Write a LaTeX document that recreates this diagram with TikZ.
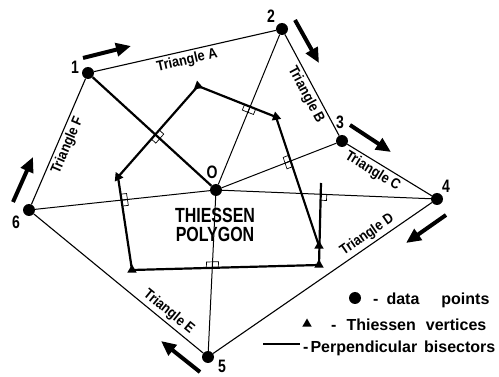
\documentclass[tikz,border=0pt]{standalone}
\usepackage{fontspec}
\setmainfont{Liberation Sans}
\newfontfamily\cond[FakeStretch=0.78]{Liberation Sans Bold}
\newfontfamily\trif[FakeStretch=0.88]{Liberation Sans Bold}
\usetikzlibrary{arrows.meta,calc,shapes.geometric}
\newcommand{\rasq}[3]{%
  \coordinate (qa) at ($(#1)!6pt!(#2)$);
  \coordinate (qb) at ($(#1)!6pt!(#3)$);
  \draw[rsq] (#1) -- (qa) -- ($(qa)+(qb)-(#1)$) -- (qb) -- cycle;
}
\begin{document}
\begin{tikzpicture}[x=1pt,y=-1pt,
  dpt/.style={circle,fill=black,inner sep=0pt,minimum size=12pt},
  vtx/.style={regular polygon,regular polygon sides=3,fill=black,inner sep=0pt,minimum size=11pt},
  hull/.style={line width=1.1pt},
  radial/.style={line width=1pt},
  bis/.style={line width=2.2pt},
  trilab/.style={font=\trif\fontsize{14.5}{14.5}\selectfont,sloped,inner sep=2.5pt},
  num/.style={font=\cond\fontsize{18}{18}\selectfont,inner sep=0pt},
  mvarrow/.style={line width=4pt,-{Triangle[length=15pt,width=13pt]}},
  rsq/.style={draw,fill=white,line width=0.7pt},
  legtxt/.style={font=\bfseries\fontsize{16}{16}\selectfont,anchor=base west,inner sep=0pt}
]
\useasboundingbox (0,0) rectangle (499,377);
% Thiessen vertices (coordinates)
\coordinate (v1) at (198,86);
\coordinate (v2) at (276,117);
\coordinate (v3) at (319,246);
\coordinate (v4) at (319,265);
\coordinate (v5) at (132,270);
\coordinate (v6) at (118,177);
\coordinate (t4) at (321,183);
% data points
\node[dpt] (p1) at (88,73) {};
\node[dpt] (p2) at (282,29) {};
\node[dpt] (p3) at (342,141) {};
\node[dpt] (p4) at (437,199) {};
\node[dpt] (p5) at (208,357) {};
\node[dpt] (p6) at (29,210) {};
\node[dpt] (o) at (216,190) {};
% intersections of radial lines and bisectors
\coordinate (i1) at (intersection of o.center--p1.center and v6--v1);
\coordinate (i2) at (intersection of o.center--p2.center and v1--v2);
\coordinate (i3) at (intersection of o.center--p3.center and v2--v3);
\coordinate (i4) at (intersection of o.center--p4.center and t4--v4);
\coordinate (i5) at (intersection of o.center--p5.center and v4--v5);
\coordinate (i6) at (intersection of o.center--p6.center and v5--v6);
% right-angle marks
\rasq{i1}{o}{v1}\rasq{i1}{o}{v6}
\rasq{i2}{o}{v1}\rasq{i2}{o}{v2}
\rasq{i3}{o}{v2}\rasq{i3}{o}{v3}
\rasq{i4}{p4}{v4}
\rasq{i5}{o}{v4}\rasq{i5}{o}{v5}
\rasq{i6}{o}{v5}\rasq{i6}{o}{v6}
% hull (triangles)
\draw[hull] (p1) -- node[trilab,below,pos=0.5]{Triangle A} (p2);
\draw[hull] (p2) -- node[trilab,below,pos=0.55]{Triangle B} (p3);
\draw[hull] (p3) -- node[trilab,below,pos=0.36]{Triangle C} (p4);
\draw[hull] (p5) -- node[trilab,above,pos=0.73]{Triangle D} (p4);
\draw[hull] (p6) -- node[trilab,above,pos=0.76]{Triangle E} (p5);
\draw[hull] (p6) -- node[trilab,below,pos=0.5]{Triangle F} (p1);
% radial lines
\draw[bis] (o) -- (p1);
\draw[radial] (o) -- (p2);
\draw[radial] (o) -- (p3);
\draw[radial] (o) -- (p4);
\draw[radial] (o) -- (p5);
\draw[radial] (o) -- (p6);
% bisectors / polygon edges
\draw[bis] (v6) -- (v1) -- (v2) -- (v3);
\draw[bis] (t4) -- (v4) -- (v5) -- (v6);
% vertices
\node[vtx,rotate=10] (w1) at (v1) {};
\node[vtx,rotate=-110] (w2) at (v2) {};
\node[vtx] (w3) at (v3) {};
\node[vtx] (w4) at (v4) {};
\node[vtx] (w5) at (v5) {};
\node[vtx,rotate=25] (w6) at (v6) {};
% labels
\node[num] (l1) at (75,67) {1};
\node[num] (l2) at (271,16) {2};
\node[num] (l3) at (340,122) {3};
\node[num] (l4) at (446,186) {4};
\node[num] (l5) at (222,366) {5};
\node[num] (l6) at (16,222) {6};
\node[num] (lo) at (212,172) {O};
\node[font=\cond\fontsize{20.5}{19}\selectfont,align=center,inner sep=0pt] (tp) at (215,225) {THIESSEN\\POLYGON};
% movement arrows
\coordinate (a1s) at (83,58);  \coordinate (a1e) at (131,46);
\coordinate (a2s) at (295,20); \coordinate (a2e) at (319,63);
\coordinate (a3s) at (350,125);\coordinate (a3e) at (391,152);
\coordinate (a4s) at (446,215);\coordinate (a4e) at (406,243);
\coordinate (a5s) at (200,372);\coordinate (a5e) at (161,341);
\coordinate (a6s) at (13,202); \coordinate (a6e) at (33,157);
\draw[mvarrow] (a1s) -- (a1e);
\draw[mvarrow] (a2s) -- (a2e);
\draw[mvarrow] (a3s) -- (a3e);
\draw[mvarrow] (a4s) -- (a4e);
\draw[mvarrow] (a5s) -- (a5e);
\draw[mvarrow] (a6s) -- (a6e);
% legend
\node[dpt] (kd) at (355,298) {};
\node[legtxt] (kt1) at (373,305) {-\hspace{8pt}data\hspace{22pt}points};
\node[vtx] (kv) at (307,324) {};
\node[legtxt] (kt2) at (331,331) {-\hspace{10pt}Thiessen\hspace{10pt}vertices};
\coordinate (kls) at (263,344); \coordinate (kle) at (300,344);
\draw[line width=1.6pt] (kls) -- (kle);
\node[legtxt] (kt3) at (303,353) {-\hspace{2pt}Perpendicular\hspace{7pt}bisectors};
\end{tikzpicture}
\end{document}
